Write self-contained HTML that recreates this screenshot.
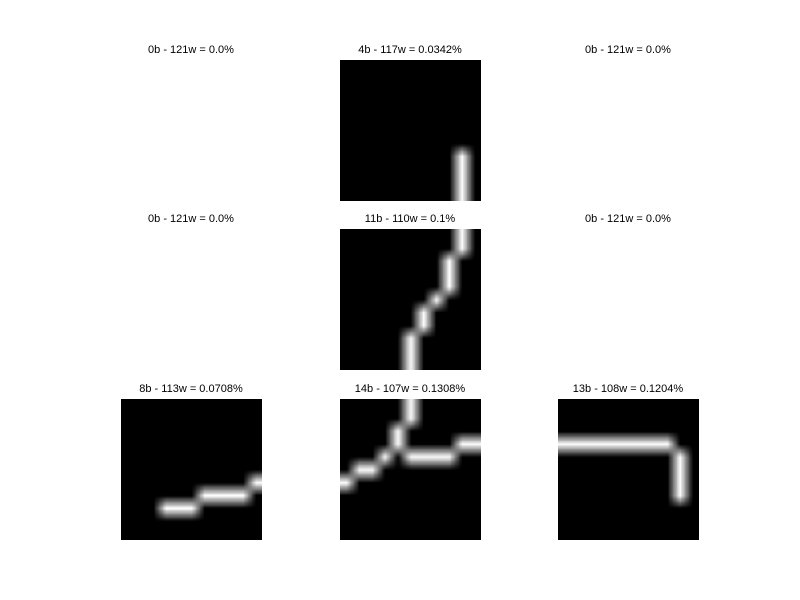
<!DOCTYPE html>
<html><head><meta charset="utf-8"><style>
body{margin:0;background:#fff;width:800px;height:600px;position:relative;overflow:hidden;font-family:"Liberation Sans",sans-serif}
.t{position:absolute;width:200px;text-align:center;font-size:11px;color:#000;line-height:12px}
canvas{position:absolute;width:141px;height:141px}
</style></head><body>
<script>
// Panel data: white pixels [col,row] in 11x11 images
const titles = ["0b - 121w = 0.0%","4b - 117w = 0.0342%","0b - 121w = 0.0%","0b - 121w = 0.0%","11b - 110w = 0.1%","0b - 121w = 0.0%","8b - 113w = 0.0708%","14b - 107w = 0.1308%","13b - 108w = 0.1204%"];
const pixels0 = null;
const pixels1 = [[9,7],[9,8],[9,9],[9,10]];
const pixels2 = null;
const pixels3 = null;
const pixels4 = [[9,0],[9,1],[8,2],[8,3],[8,4],[7,5],[6,6],[6,7],[5,8],[5,9],[5,10]];
const pixels5 = null;
const pixels6 = [[3,8],[4,8],[5,8],[6,7],[7,7],[8,7],[9,7],[10,6]];
const pixels7 = [[5,0],[5,1],[4,2],[4,3],[3,4],[1,5],[2,5],[0,6],[5,4],[6,4],[7,4],[8,4],[9,3],[10,3]];
const pixels8 = [[0,3],[1,3],[2,3],[3,3],[4,3],[5,3],[6,3],[7,3],[8,3],[9,4],[9,5],[9,6],[9,7]];
const allPixels=[pixels0,pixels1,pixels2,pixels3,pixels4,pixels5,pixels6,pixels7,pixels8];
const colX=[121,340,558], rowY=[60,229,399];
for(let i=0;i<9;i++){
  const c=i%3,r=Math.floor(i/3);
  const t=document.createElement('div');
  t.className='t';
  
  
  t.style.left=(colX[c]+70-100)+'px';t.style.top=(rowY[r]-16)+'px';
  t.textContent=titles[i];document.body.appendChild(t);
  const px=allPixels[i];
  if(!px)continue;
  const small=document.createElement('canvas');small.width=11;small.height=11;
  const sx=small.getContext('2d');sx.fillStyle='#000';sx.fillRect(0,0,11,11);
  sx.fillStyle='#fff';px.forEach(p=>sx.fillRect(p[0],p[1],1,1));
  const cv=document.createElement('canvas');
  
  
  cv.width=141;cv.height=141;cv.style.left=colX[c]+'px';cv.style.top=rowY[r]+'px';
  const ctx=cv.getContext('2d');ctx.imageSmoothingEnabled=true;ctx.imageSmoothingQuality='low';
  ctx.drawImage(small,0,0,141,141);
  document.body.appendChild(cv);
}
</script>
</body></html>
